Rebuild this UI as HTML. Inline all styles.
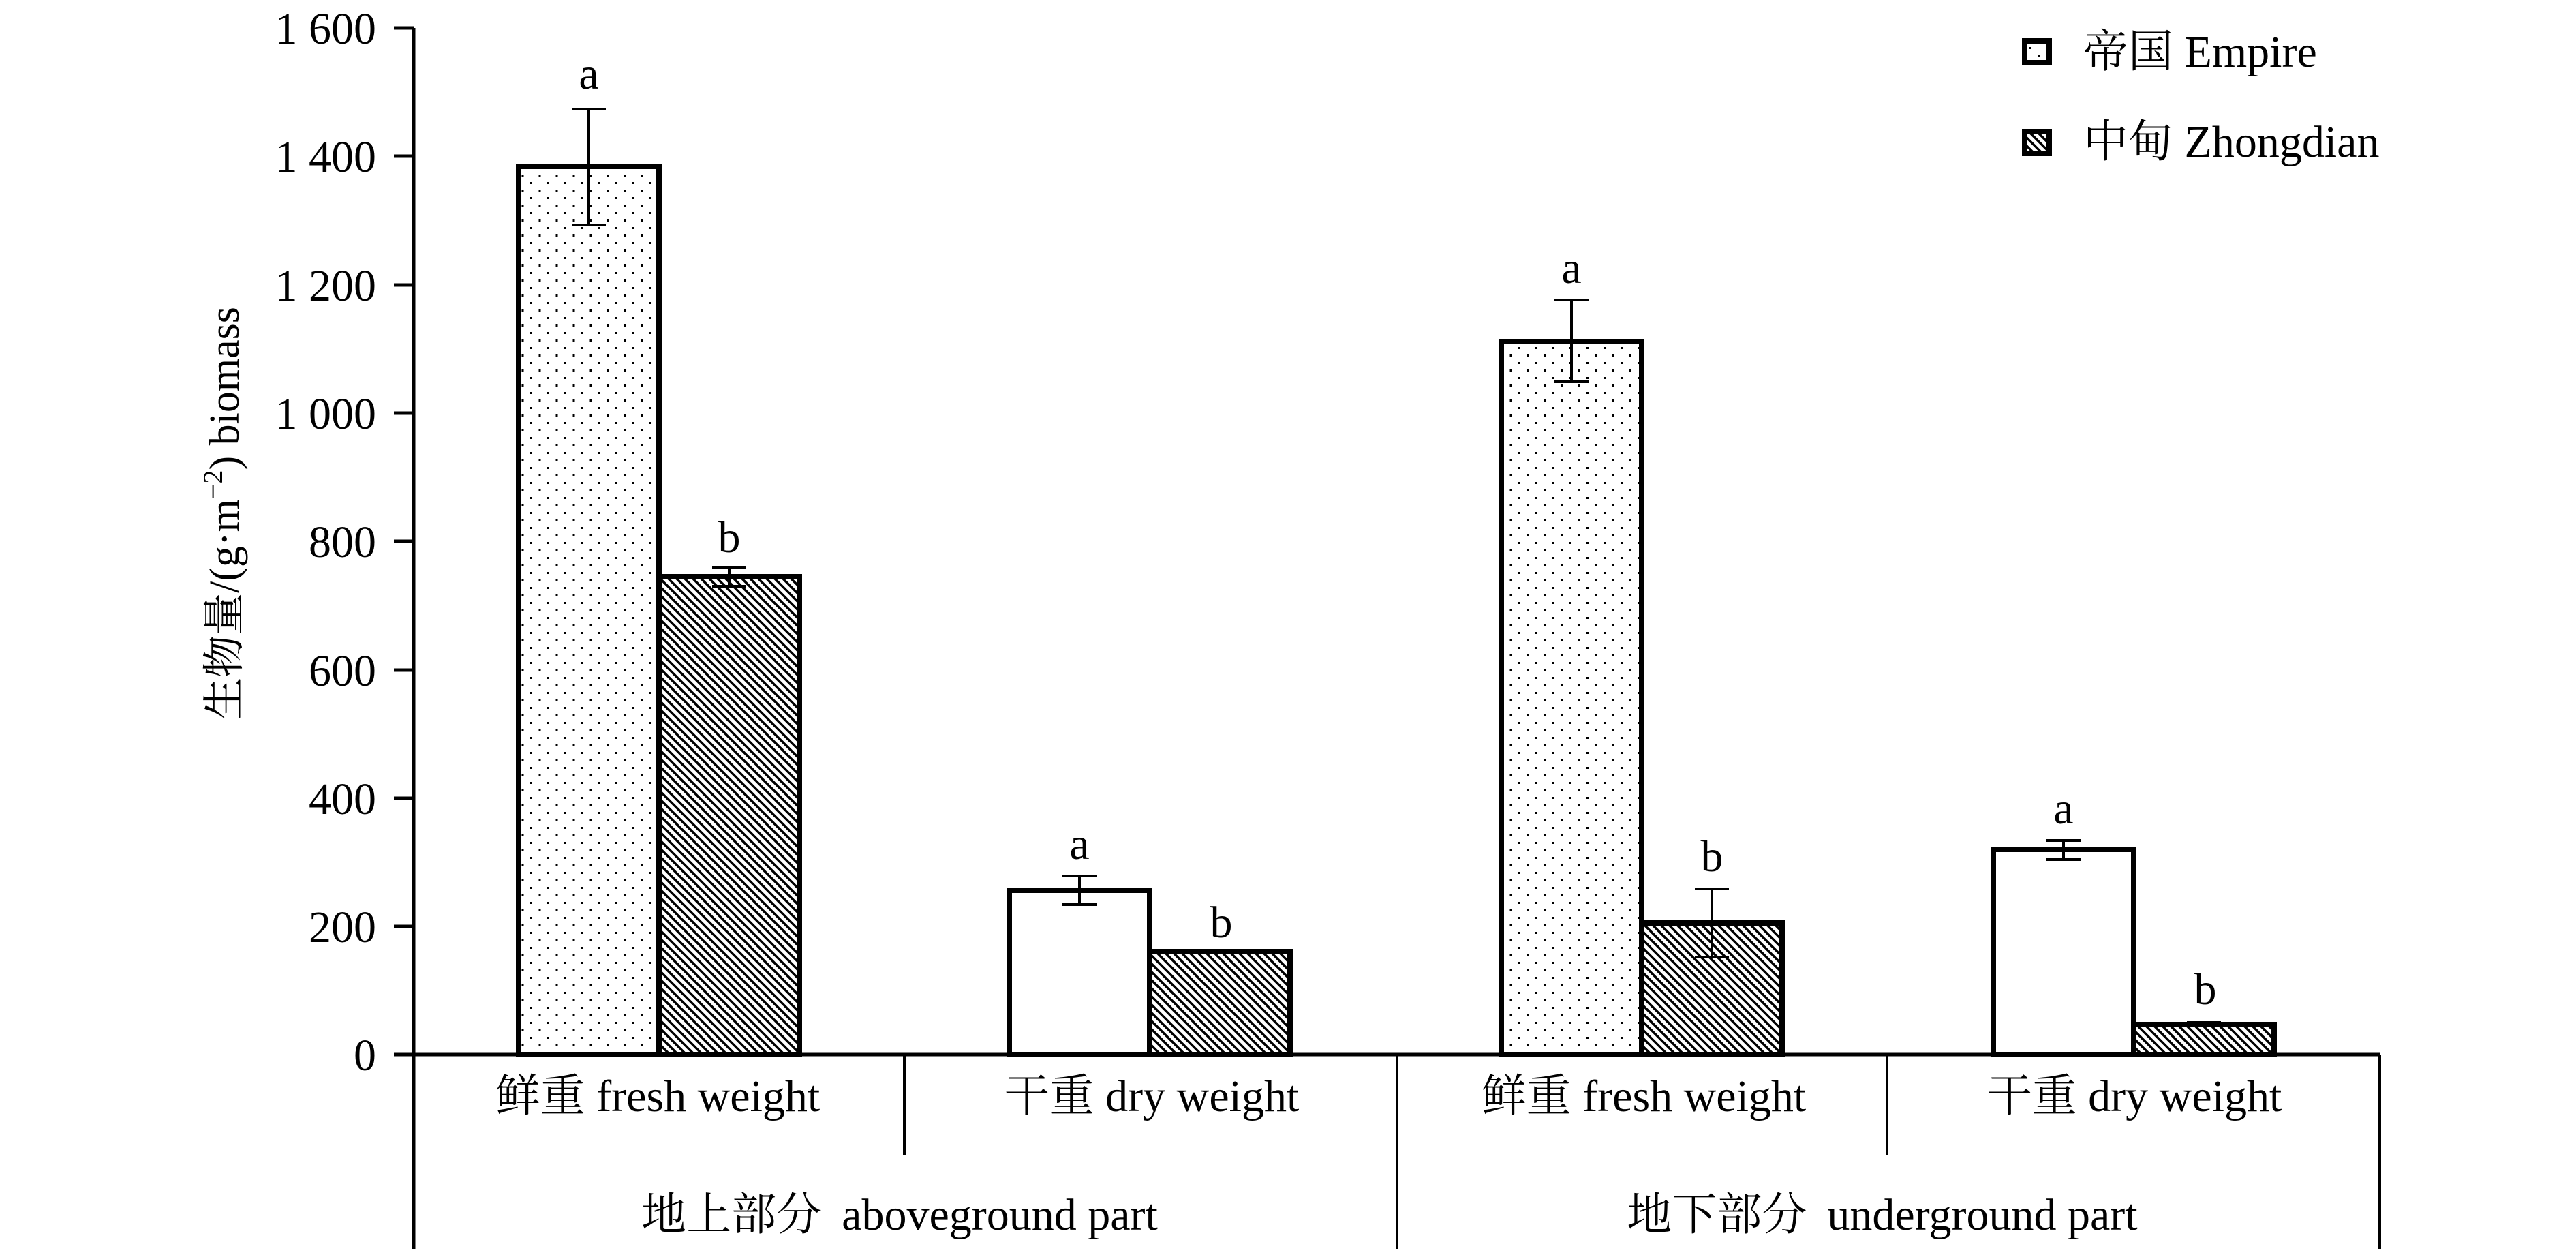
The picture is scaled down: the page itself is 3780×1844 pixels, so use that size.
<!DOCTYPE html>
<html><head><meta charset="utf-8"><style>
html,body{margin:0;padding:0;background:#fff;}
svg{display:block;}
text{font-family:"Liberation Serif","Noto Serif CJK SC","Noto Sans CJK SC",serif;fill:#000;}
</style></head><body>
<svg width="3780" height="1844" viewBox="0 0 3780 1844" xmlns="http://www.w3.org/2000/svg">
<defs>
<pattern id="dots" width="25" height="22" patternUnits="userSpaceOnUse">
<rect x="3" y="3" width="3" height="3" fill="#000"/>
<rect x="15.5" y="14" width="3" height="3" fill="#000"/>
</pattern>
<pattern id="hatch" width="12" height="12" patternUnits="userSpaceOnUse">
<path d="M-3,-3 L15,15 M-3,9 L3,15 M9,-3 L15,3" stroke="#000" stroke-width="3.5"/>
</pattern>
</defs>

<line x1="607" y1="41" x2="607" y2="1832" stroke="#000" stroke-width="5"/>
<g stroke="#000" stroke-width="5">
<line x1="578" y1="41" x2="607" y2="41"/>
<line x1="578" y1="229" x2="607" y2="229"/>
<line x1="578" y1="418" x2="607" y2="418"/>
<line x1="578" y1="606" x2="607" y2="606"/>
<line x1="578" y1="794" x2="607" y2="794"/>
<line x1="578" y1="983" x2="607" y2="983"/>
<line x1="578" y1="1171" x2="607" y2="1171"/>
<line x1="578" y1="1359" x2="607" y2="1359"/>
<line x1="578" y1="1547" x2="3492" y2="1547"/>
</g>
<g font-size="66" text-anchor="end">
<text x="552" y="64">1 600</text>
<text x="552" y="252">1 400</text>
<text x="552" y="441">1 200</text>
<text x="552" y="629">1 000</text>
<text x="552" y="817">800</text>
<text x="552" y="1006">600</text>
<text x="552" y="1194">400</text>
<text x="552" y="1382">200</text>
<text x="552" y="1570">0</text>
</g>
<text transform="translate(350,753) rotate(-90)" font-size="62" text-anchor="middle">生物量/(g·m<tspan font-size="40" dy="-24">−2</tspan><tspan dy="24">) biomass</tspan></text>

<g stroke="#000" stroke-width="4">
<line x1="1327" y1="1547" x2="1327" y2="1694"/>
<line x1="2769" y1="1547" x2="2769" y2="1694"/>
<line x1="2050" y1="1547" x2="2050" y2="1832"/>
<line x1="3492" y1="1547" x2="3492" y2="1832"/>
</g>

<g stroke="#000" stroke-width="8">
<rect x="761" y="244" width="206" height="1303" fill="url(#dots)"/>
<rect x="967" y="846" width="206" height="701" fill="url(#hatch)"/>
<rect x="1481" y="1306" width="206" height="241" fill="#fff"/>
<rect x="1687" y="1396" width="206" height="151" fill="url(#hatch)"/>
<rect x="2203" y="501" width="206" height="1046" fill="url(#dots)"/>
<rect x="2409" y="1354" width="206" height="193" fill="url(#hatch)"/>
<rect x="2925" y="1246" width="206" height="301" fill="#fff"/>
<rect x="3131" y="1503" width="206" height="44" fill="url(#hatch)"/>
</g>

<g stroke="#000" stroke-width="4">
<path d="M864,160V330 M839,160H889 M839,330H889"/>
<path d="M1070,832V860 M1045,832H1095 M1045,860H1095"/>
<path d="M1584,1285V1327 M1559,1285H1609 M1559,1327H1609"/>
<path d="M2306,440V560 M2281,440H2331 M2281,560H2331"/>
<path d="M2512,1304V1404 M2487,1304H2537 M2487,1404H2537"/>
<path d="M3028,1233V1261 M3003,1233H3053 M3003,1261H3053"/>
<path d="M3234,1500V1505 M3209,1500H3259 M3209,1505H3259"/>
</g>

<g font-size="66" text-anchor="middle">
<text x="864" y="130">a</text>
<text x="1070" y="810">b</text>
<text x="1584" y="1260">a</text>
<text x="1792" y="1375">b</text>
<text x="2306" y="415">a</text>
<text x="2512" y="1278">b</text>
<text x="3028" y="1208">a</text>
<text x="3236" y="1473">b</text>
</g>

<g font-size="66" text-anchor="middle">
<text x="965" y="1630">鲜重 fresh weight</text>
<text x="1690" y="1630">干重 dry weight</text>
<text x="2412" y="1630">鲜重 fresh weight</text>
<text x="3132" y="1630">干重 dry weight</text>
<text x="1320" y="1804">地上部分<tspan dx="30">aboveground part</tspan></text>
<text x="2762" y="1804">地下部分<tspan dx="30">underground part</tspan></text>
</g>

<rect x="2971" y="60" width="36" height="32" fill="url(#dots)" stroke="#000" stroke-width="8"/>
<rect x="2971" y="193" width="36" height="32" fill="url(#hatch)" stroke="#000" stroke-width="8"/>
<g font-size="66">
<text x="3057" y="98">帝国 Empire</text>
<text x="3057" y="230">中甸 Zhongdian</text>
</g>
</svg>
</body></html>
